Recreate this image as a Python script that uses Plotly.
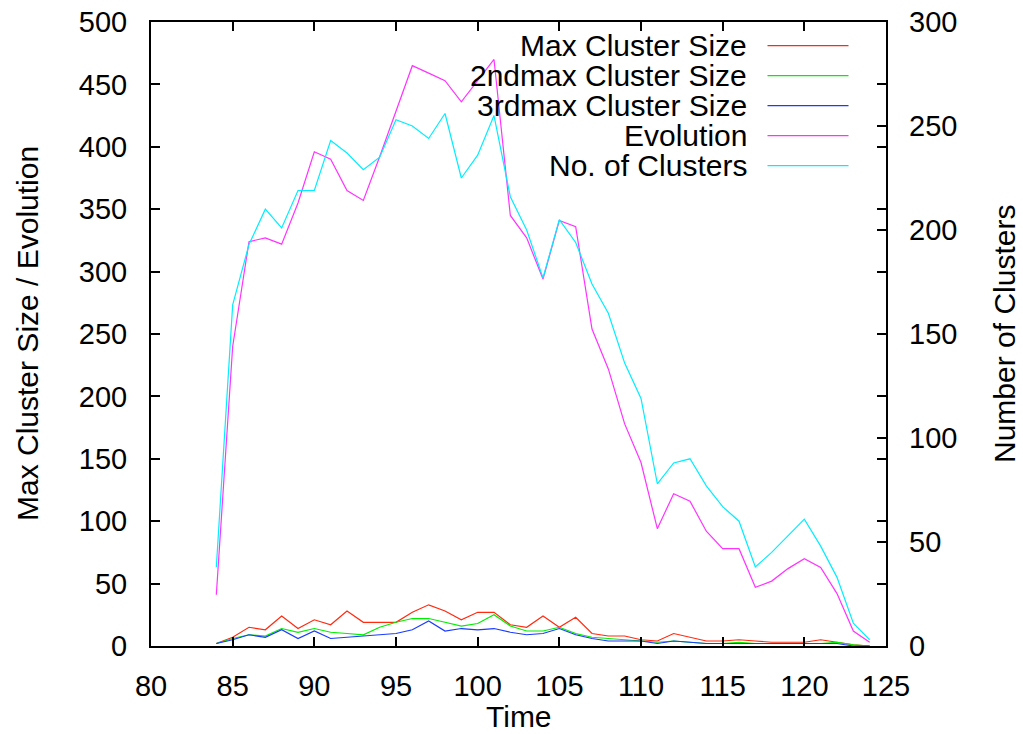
import plotly.graph_objects as go

# Time steps
time = list(range(84, 125))

# Largest three cluster sizes per time step
max_cluster = [2, 7, 15, 13, 24, 14, 21, 17, 28, 19,
               19, 19, 27, 33, 28, 21, 27, 27, 17, 15,
               24, 15, 23, 10, 8, 8, 5, 4, 10, 7,
               4, 4, 5, 4, 3, 3, 3, 5, 3, 1, 0]
second_max = [2, 6, 9, 8, 14, 11, 14, 11, 10, 9,
              15, 19, 22, 22, 19, 16, 18, 25, 16, 12,
              12, 15, 10, 7, 6, 5, 4, 3, 4, 3,
              2, 2, 3, 2, 2, 2, 2, 2, 3, 1, 0]
third_max = [2, 5, 9, 7, 13, 6, 12, 6, 7, 8,
             9, 10, 13, 20, 12, 14, 13, 14, 11, 9,
             10, 14, 9, 6, 4, 4, 4, 2, 4, 3,
             2, 2, 2, 2, 2, 2, 2, 2, 2, 0, 0]
evolution = [41, 240, 324, 327, 322, 355, 396, 390, 365, 357,
             392, 428, 465, 459, 453, 436, 453, 470, 345, 327,
             294, 341, 336, 254, 222, 178, 147, 94, 122, 116,
             92, 78, 78, 47, 52, 62, 70, 63, 42, 12, 3]
# Number of clusters (right axis)
n_clusters = [38, 164, 193, 210, 201, 219, 219, 243, 237, 229,
              235, 253, 250, 244, 256, 225, 236, 255, 216, 200,
              177, 205, 194, 174, 160, 136, 119, 78, 88, 90,
              77, 67, 60, 38, 45, 53, 61, 48, 33, 11, 3]

series = [
    ("Max Cluster Size", max_cluster, "#ff2a10", "y"),
    ("2ndmax Cluster Size", second_max, "#00ee00", "y"),
    ("3rdmax Cluster Size", third_max, "#1a3cff", "y"),
    ("Evolution", evolution, "#ff33ff", "y"),
    ("No. of Clusters", n_clusters, "#00eeff", "y2"),
]

FONT = "Liberation Sans, Arial, Helvetica, sans-serif"
W, H = 1023, 734
L, R, T, B = 151, 137, 22, 88
pw, ph = W - L - R, H - T - B

fig = go.Figure()
for name, vals, color, ax in series:
    fig.add_trace(go.Scatter(x=time, y=vals, mode="lines", name=name,
                             yaxis=ax, line=dict(color=color, width=1.2),
                             showlegend=False))

# Key: right-aligned labels with line samples to their right
def px_x(p):
    return (p - L) / pw

def px_y(p):
    return (H - B - p) / ph

rows_y = [45.7, 75.7, 105.7, 135.7, 165.7]
annotations = []
shapes = []
for (name, _, color, _), ry in zip(series, rows_y):
    annotations.append(dict(x=px_x(749), y=px_y(ry), xref="paper", yref="paper",
                            text=name, showarrow=False, xanchor="right",
                            yanchor="middle", font=dict(family=FONT, size=30, color="black")))
    shapes.append(dict(type="line", xref="paper", yref="paper",
                       x0=px_x(767.5), x1=px_x(848.5), y0=px_y(ry), y1=px_y(ry),
                       line=dict(color=color, width=1.2)))

# Axis titles
annotations.append(dict(x=0.5, y=px_y(716), xref="paper", yref="paper", text="Time",
                        showarrow=False, xanchor="center", yanchor="middle",
                        font=dict(family=FONT, size=30, color="black")))
annotations.append(dict(x=px_x(27), y=0.5, xref="paper", yref="paper",
                        text="Max Cluster Size / Evolution", textangle=-90,
                        showarrow=False, xanchor="center", yanchor="middle",
                        font=dict(family=FONT, size=30, color="black")))
annotations.append(dict(x=px_x(1004), y=0.5, xref="paper", yref="paper",
                        text="Number of Clusters", textangle=-90,
                        showarrow=False, xanchor="center", yanchor="middle",
                        font=dict(family=FONT, size=30, color="black")))

tickfont = dict(family=FONT, size=29, color="black")
fig.update_layout(
    width=W, height=H,
    margin=dict(l=L, r=R, t=T, b=B, pad=0, autoexpand=False),
    paper_bgcolor="white", plot_bgcolor="white",
    xaxis=dict(range=[80, 125], tick0=80, dtick=5, ticks="inside", ticklen=9,
               tickwidth=1.5, tickcolor="black", showline=True, linecolor="black",
               linewidth=2, mirror="ticks", showgrid=False, zeroline=False,
               tickfont=tickfont, ticklabelstandoff=13, automargin=False),
    yaxis=dict(range=[0, 500], tick0=0, dtick=50, ticks="inside", ticklen=9,
               tickwidth=1.5, tickcolor="black", showline=True, linecolor="black",
               linewidth=2, mirror="ticks", showgrid=False, zeroline=False,
               tickfont=tickfont, ticklabelstandoff=16, automargin=False),
    yaxis2=dict(range=[0, 300], tick0=0, dtick=50, ticks="inside", ticklen=9,
                tickwidth=1.5, tickcolor="black", showline=False, overlaying="y",
                side="right", showgrid=False, zeroline=False,
                tickfont=tickfont, ticklabelstandoff=22, automargin=False),
    annotations=annotations,
    shapes=shapes,
    showlegend=False,
)

fig.write_html("out.html")
